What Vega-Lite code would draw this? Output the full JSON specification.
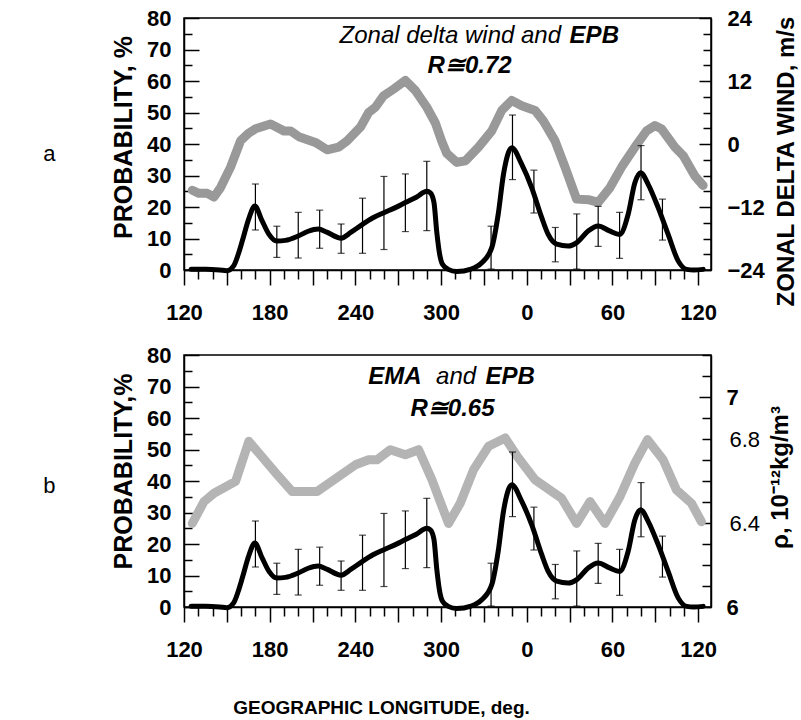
{
  "$schema": "https://vega.github.io/schema/vega-lite/v6.json",
  "padding": {"left": 42, "top": 6, "right": 0, "bottom": 0},
  "autosize": {"type": "pad"},
  "background": "white",
  "config": {
    "font": "Liberation Sans",
    "view": {"stroke": "black", "strokeWidth": 1.5},
    "concat": {"spacing": 19},
    "axis": {
      "grid": false,
      "domainColor": "black",
      "domainWidth": 1.5,
      "tickColor": "black",
      "tickWidth": 1.5,
      "labelColor": "black",
      "labelFont": "Liberation Sans",
      "labelFontSize": 22,
      "labelFontWeight": "bold",
      "labelOverlap": false,
      "labelFlush": false,
      "titleColor": "black",
      "titleFont": "Liberation Sans",
      "titleFontSize": 25,
      "titleFontWeight": "bold"
    }
  },
  "datasets": {
    "epb": [
      {"lon": 125, "p": 0.2}, {"lon": 135, "p": 0.2}, {"lon": 145, "p": 0.0}, {"lon": 150, "p": -0.2},
      {"lon": 155, "p": 1.5}, {"lon": 158, "p": 5}, {"lon": 161, "p": 9.5}, {"lon": 165.5, "p": 16.5},
      {"lon": 169.6, "p": 20.3}, {"lon": 174.7, "p": 15.6}, {"lon": 179.4, "p": 11.4}, {"lon": 185, "p": 9.2},
      {"lon": 191, "p": 9.4}, {"lon": 200, "p": 10.8}, {"lon": 207, "p": 12.3}, {"lon": 214, "p": 13},
      {"lon": 220, "p": 12}, {"lon": 230, "p": 10.1}, {"lon": 237, "p": 12}, {"lon": 245, "p": 14.5},
      {"lon": 252, "p": 16.5}, {"lon": 260, "p": 18.2}, {"lon": 268, "p": 19.8}, {"lon": 275, "p": 21.4},
      {"lon": 283, "p": 23.2}, {"lon": 290, "p": 25}, {"lon": 292.5, "p": 24.5}, {"lon": 295, "p": 21.5},
      {"lon": 297, "p": 12}, {"lon": 299, "p": 5}, {"lon": 301, "p": 1.8}, {"lon": 305, "p": 0.2},
      {"lon": 311, "p": -0.5}, {"lon": 321, "p": 0.3}, {"lon": 328.5, "p": 2.3}, {"lon": 335.5, "p": 7.1},
      {"lon": 340, "p": 17.7}, {"lon": 343.7, "p": 30.4}, {"lon": 349.5, "p": 38.8}, {"lon": 356.5, "p": 33.5},
      {"lon": 363.5, "p": 26.1}, {"lon": 370.5, "p": 16.6}, {"lon": 375, "p": 11.3}, {"lon": 381, "p": 8.2},
      {"lon": 389, "p": 7.6}, {"lon": 395, "p": 8.7}, {"lon": 403, "p": 12.4}, {"lon": 410, "p": 14},
      {"lon": 418, "p": 12.4}, {"lon": 425, "p": 11.3}, {"lon": 431, "p": 17.7}, {"lon": 435.7, "p": 27.7},
      {"lon": 439.7, "p": 30.9}, {"lon": 445, "p": 27.2}, {"lon": 452, "p": 19.8}, {"lon": 459, "p": 11.3},
      {"lon": 466, "p": 2.9}, {"lon": 472, "p": 0.2}, {"lon": 477, "p": 0}, {"lon": 483.5, "p": 0.2}
    ],
    "err": [
      {"lon": 170, "lo": 12.7, "hi": 27.3}, {"lon": 185, "lo": 4.0, "hi": 13.9}, {"lon": 200, "lo": 3.8, "hi": 18.3},
      {"lon": 215, "lo": 6.9, "hi": 19.0}, {"lon": 230, "lo": 5.3, "hi": 14.6}, {"lon": 245, "lo": 5.3, "hi": 22.8},
      {"lon": 260, "lo": 6.5, "hi": 29.7}, {"lon": 275, "lo": 12.2, "hi": 30.5}, {"lon": 290, "lo": 12.5, "hi": 34.5},
      {"lon": 335, "lo": 0.3, "hi": 13.9}, {"lon": 350, "lo": 28.7, "hi": 49.2}, {"lon": 365, "lo": 18.1, "hi": 31.7},
      {"lon": 380, "lo": 2.6, "hi": 13.5}, {"lon": 395, "lo": 0.3, "hi": 17.8}, {"lon": 410, "lo": 7.5, "hi": 20.2},
      {"lon": 425, "lo": 3.7, "hi": 18.3}, {"lon": 440, "lo": 22.3, "hi": 39.5}, {"lon": 455, "lo": 9.5, "hi": 22.5}
    ],
    "wind": [
      {"lon": 125.8, "w": -8.8}, {"lon": 130.5, "w": -9.4}, {"lon": 136.3, "w": -9.4}, {"lon": 141, "w": -10.1},
      {"lon": 145.6, "w": -8.3}, {"lon": 152.6, "w": -4.4}, {"lon": 159.6, "w": 0.6}, {"lon": 165, "w": 2.0},
      {"lon": 170.1, "w": 2.9}, {"lon": 180.6, "w": 3.8}, {"lon": 189.9, "w": 2.5}, {"lon": 194.6, "w": 2.5},
      {"lon": 200.4, "w": 1.4}, {"lon": 212, "w": 0.3}, {"lon": 220.2, "w": -1.1}, {"lon": 228.3, "w": -0.6},
      {"lon": 234.2, "w": 0.6}, {"lon": 243.5, "w": 3.2}, {"lon": 249.3, "w": 6}, {"lon": 254, "w": 7},
      {"lon": 259.8, "w": 9.2}, {"lon": 267, "w": 10.5}, {"lon": 275, "w": 12.1}, {"lon": 282, "w": 10.2},
      {"lon": 290, "w": 7}, {"lon": 296, "w": 4}, {"lon": 300.5, "w": 0.5}, {"lon": 304, "w": -1.8},
      {"lon": 311, "w": -3.5}, {"lon": 317, "w": -3.2}, {"lon": 326.2, "w": -0.6}, {"lon": 335.5, "w": 2.5},
      {"lon": 342.5, "w": 6.4}, {"lon": 349.5, "w": 8.3}, {"lon": 356.5, "w": 7.3}, {"lon": 365.8, "w": 6.4},
      {"lon": 371.6, "w": 4.4}, {"lon": 379.8, "w": 0.6}, {"lon": 386.8, "w": -4.4}, {"lon": 394.9, "w": -10.5},
      {"lon": 403.1, "w": -10.6}, {"lon": 410.1, "w": -11.1}, {"lon": 418.3, "w": -8.3}, {"lon": 426.4, "w": -4.4},
      {"lon": 435.7, "w": -0.6}, {"lon": 443.9, "w": 2.5}, {"lon": 449.7, "w": 3.5}, {"lon": 454.3, "w": 2.9},
      {"lon": 463.7, "w": -0.6}, {"lon": 469.5, "w": -2.2}, {"lon": 477.7, "w": -6.1}, {"lon": 483.5, "w": -7.9}
    ],
    "rho": [
      {"lon": 125.8, "r": 6.398}, {"lon": 134, "r": 6.502}, {"lon": 141, "r": 6.542}, {"lon": 156.1, "r": 6.598},
      {"lon": 165.4, "r": 6.789}, {"lon": 186.4, "r": 6.621}, {"lon": 195.7, "r": 6.55}, {"lon": 213.2, "r": 6.55},
      {"lon": 240, "r": 6.677}, {"lon": 249.3, "r": 6.701}, {"lon": 255.1, "r": 6.701}, {"lon": 264.5, "r": 6.749},
      {"lon": 275, "r": 6.725}, {"lon": 284.3, "r": 6.749}, {"lon": 293.6, "r": 6.606}, {"lon": 305.2, "r": 6.398},
      {"lon": 313.4, "r": 6.494}, {"lon": 322.7, "r": 6.653}, {"lon": 333.2, "r": 6.765}, {"lon": 344.9, "r": 6.805},
      {"lon": 354.2, "r": 6.709}, {"lon": 365.8, "r": 6.606}, {"lon": 384.4, "r": 6.518}, {"lon": 394.9, "r": 6.398},
      {"lon": 404.3, "r": 6.502}, {"lon": 414.8, "r": 6.398}, {"lon": 425.3, "r": 6.526}, {"lon": 435.7, "r": 6.685},
      {"lon": 444.6, "r": 6.797}, {"lon": 455.5, "r": 6.701}, {"lon": 464.8, "r": 6.558}, {"lon": 475.3, "r": 6.494},
      {"lon": 482.3, "r": 6.406}
    ]
  },
  "vconcat": [
    {
      "width": 527,
      "height": 252,
      "title": {"text": "a", "orient": "left", "angle": 0, "fontSize": 22, "fontWeight": "normal", "font": "Liberation Sans", "offset": 50, "dy": 0},
      "layer": [
        {
          "data": {"name": "wind"},
          "mark": {"type": "line", "color": "#999999", "strokeWidth": 9, "strokeJoin": "round", "strokeCap": "round"},
          "encoding": {
            "x": {
              "field": "lon", "type": "quantitative",
              "scale": {"domain": [120, 489], "nice": false, "zero": false},
              "axis": {
                "title": null, "labelOverlap": false,
                "values": [120,130,140,150,160,170,180,190,200,210,220,230,240,250,260,270,280,290,300,310,320,330,340,350,360,370,380,390,400,410,420,430,440,450,460,470,480],
                "tickSize": {"condition": {"test": "datum.value % 30 == 0", "value": 15}, "value": 9},
                "labelExpr": "datum.value % 60 == 0 ? format(datum.value % 360, 'd') : ''",
                "labelPadding": 17
              }
            },
            "y": {
              "field": "w", "type": "quantitative",
              "scale": {"domain": [-24, 24], "nice": false, "zero": false},
              "axis": {
                "orient": "right", "title": "ZONAL DELTA WIND, m/s", "titleFontSize": 24, "titleAngle": 270,
                "titleBaseline": "top", "titlePadding": 10, "titleY": 143, "labelOverlap": false,
                "values": [-24,-21,-18,-15,-12,-9,-6,-3,0,3,6,9,12,15,18,21,24],
                "tickSize": {"condition": {"test": "datum.value % 12 == 0", "value": -12}, "value": -8},
                "labelExpr": "datum.value % 12 == 0 ? format(datum.value, 'd') : ''",
                "labelPadding": 28
              }
            }
          }
        },
        {
          "layer": [
            {
              "data": {"name": "err"},
              "mark": {"type": "rule", "color": "black", "strokeWidth": 1.2},
              "encoding": {
                "x": {
                  "field": "lon", "type": "quantitative",
                  "scale": {"domain": [120, 489], "nice": false, "zero": false},
                  "axis": {
                    "title": null, "labelOverlap": false,
                    "values": [120,130,140,150,160,170,180,190,200,210,220,230,240,250,260,270,280,290,300,310,320,330,340,350,360,370,380,390,400,410,420,430,440,450,460,470,480],
                    "tickSize": {"condition": {"test": "datum.value % 30 == 0", "value": 15}, "value": 9},
                    "labelExpr": "datum.value % 60 == 0 ? format(datum.value % 360, 'd') : ''",
                    "labelPadding": 17
                  }
                },
                "y": {
                  "field": "lo", "type": "quantitative",
                  "scale": {"domain": [0, 80], "nice": false, "zero": false},
                  "axis": {
                    "orient": "left", "title": "PROBABILITY, %", "titlePadding": 10, "titleY": 119, "labelOverlap": false,
                    "values": [0,5,10,15,20,25,30,35,40,45,50,55,60,65,70,75,80],
                    "tickSize": {"condition": {"test": "datum.value % 10 == 0", "value": -15}, "value": -8},
                    "labelExpr": "datum.value % 10 == 0 ? format(datum.value, 'd') : ''",
                    "labelPadding": 28
                  }
                },
                "y2": {"field": "hi"}
              }
            },
            {
              "data": {"name": "err"},
              "mark": {"type": "tick", "orient": "horizontal", "color": "black", "size": 7, "thickness": 1.2},
              "encoding": {
                "x": {
                  "field": "lon", "type": "quantitative",
                  "axis": {
                    "title": null, "labelOverlap": false,
                    "values": [120,130,140,150,160,170,180,190,200,210,220,230,240,250,260,270,280,290,300,310,320,330,340,350,360,370,380,390,400,410,420,430,440,450,460,470,480],
                    "tickSize": {"condition": {"test": "datum.value % 30 == 0", "value": 15}, "value": 9},
                    "labelExpr": "datum.value % 60 == 0 ? format(datum.value % 360, 'd') : ''",
                    "labelPadding": 17
                  }
                },
                "y": {
                  "field": "lo", "type": "quantitative",
                  "axis": {
                    "orient": "left", "title": "PROBABILITY, %", "titlePadding": 10, "titleY": 119, "labelOverlap": false,
                    "values": [0,5,10,15,20,25,30,35,40,45,50,55,60,65,70,75,80],
                    "tickSize": {"condition": {"test": "datum.value % 10 == 0", "value": -15}, "value": -8},
                    "labelExpr": "datum.value % 10 == 0 ? format(datum.value, 'd') : ''",
                    "labelPadding": 28
                  }
                }
              }
            },
            {
              "data": {"name": "err"},
              "mark": {"type": "tick", "orient": "horizontal", "color": "black", "size": 7, "thickness": 1.2},
              "encoding": {
                "x": {
                  "field": "lon", "type": "quantitative",
                  "axis": {
                    "title": null, "labelOverlap": false,
                    "values": [120,130,140,150,160,170,180,190,200,210,220,230,240,250,260,270,280,290,300,310,320,330,340,350,360,370,380,390,400,410,420,430,440,450,460,470,480],
                    "tickSize": {"condition": {"test": "datum.value % 30 == 0", "value": 15}, "value": 9},
                    "labelExpr": "datum.value % 60 == 0 ? format(datum.value % 360, 'd') : ''",
                    "labelPadding": 17
                  }
                },
                "y": {
                  "field": "hi", "type": "quantitative",
                  "axis": {
                    "orient": "left", "title": "PROBABILITY, %", "titlePadding": 10, "titleY": 119, "labelOverlap": false,
                    "values": [0,5,10,15,20,25,30,35,40,45,50,55,60,65,70,75,80],
                    "tickSize": {"condition": {"test": "datum.value % 10 == 0", "value": -15}, "value": -8},
                    "labelExpr": "datum.value % 10 == 0 ? format(datum.value, 'd') : ''",
                    "labelPadding": 28
                  }
                }
              }
            },
            {
              "data": {"name": "epb"},
              "mark": {"type": "line", "color": "black", "strokeWidth": 5, "interpolate": "monotone", "strokeJoin": "round", "strokeCap": "round"},
              "encoding": {
                "x": {
                  "field": "lon", "type": "quantitative",
                  "axis": {
                    "title": null, "labelOverlap": false,
                    "values": [120,130,140,150,160,170,180,190,200,210,220,230,240,250,260,270,280,290,300,310,320,330,340,350,360,370,380,390,400,410,420,430,440,450,460,470,480],
                    "tickSize": {"condition": {"test": "datum.value % 30 == 0", "value": 15}, "value": 9},
                    "labelExpr": "datum.value % 60 == 0 ? format(datum.value % 360, 'd') : ''",
                    "labelPadding": 17
                  }
                },
                "y": {
                  "field": "p", "type": "quantitative",
                  "axis": {
                    "orient": "left", "title": "PROBABILITY, %", "titlePadding": 10, "titleY": 119, "labelOverlap": false,
                    "values": [0,5,10,15,20,25,30,35,40,45,50,55,60,65,70,75,80],
                    "tickSize": {"condition": {"test": "datum.value % 10 == 0", "value": -15}, "value": -8},
                    "labelExpr": "datum.value % 10 == 0 ? format(datum.value, 'd') : ''",
                    "labelPadding": 28
                  }
                }
              }
            },
            {
              "data": {"values": [{}]},
              "mark": {"type": "text", "font": "Liberation Sans", "fontStyle": "italic", "fontSize": 24, "align": "right", "baseline": "middle", "color": "black"},
              "encoding": {
                "x": {
                  "datum": 384, "type": "quantitative",
                  "axis": {
                    "title": null, "labelOverlap": false,
                    "values": [120,130,140,150,160,170,180,190,200,210,220,230,240,250,260,270,280,290,300,310,320,330,340,350,360,370,380,390,400,410,420,430,440,450,460,470,480],
                    "tickSize": {"condition": {"test": "datum.value % 30 == 0", "value": 15}, "value": 9},
                    "labelExpr": "datum.value % 60 == 0 ? format(datum.value % 360, 'd') : ''",
                    "labelPadding": 17
                  }
                },
                "y": {
                  "datum": 74.3, "type": "quantitative",
                  "axis": {
                    "orient": "left", "title": "PROBABILITY, %", "titlePadding": 10, "titleY": 119, "labelOverlap": false,
                    "values": [0,5,10,15,20,25,30,35,40,45,50,55,60,65,70,75,80],
                    "tickSize": {"condition": {"test": "datum.value % 10 == 0", "value": -15}, "value": -8},
                    "labelExpr": "datum.value % 10 == 0 ? format(datum.value, 'd') : ''",
                    "labelPadding": 28
                  }
                },
                "text": {"value": "Zonal delta wind and"}
              }
            },
            {
              "data": {"values": [{}]},
              "mark": {"type": "text", "font": "Liberation Sans", "fontStyle": "italic", "fontWeight": "bold", "fontSize": 24, "align": "left", "baseline": "middle", "color": "black"},
              "encoding": {
                "x": {
                  "datum": 390, "type": "quantitative",
                  "axis": {
                    "title": null, "labelOverlap": false,
                    "values": [120,130,140,150,160,170,180,190,200,210,220,230,240,250,260,270,280,290,300,310,320,330,340,350,360,370,380,390,400,410,420,430,440,450,460,470,480],
                    "tickSize": {"condition": {"test": "datum.value % 30 == 0", "value": 15}, "value": 9},
                    "labelExpr": "datum.value % 60 == 0 ? format(datum.value % 360, 'd') : ''",
                    "labelPadding": 17
                  }
                },
                "y": {
                  "datum": 74.3, "type": "quantitative",
                  "axis": {
                    "orient": "left", "title": "PROBABILITY, %", "titlePadding": 10, "titleY": 119, "labelOverlap": false,
                    "values": [0,5,10,15,20,25,30,35,40,45,50,55,60,65,70,75,80],
                    "tickSize": {"condition": {"test": "datum.value % 10 == 0", "value": -15}, "value": -8},
                    "labelExpr": "datum.value % 10 == 0 ? format(datum.value, 'd') : ''",
                    "labelPadding": 28
                  }
                },
                "text": {"value": "EPB"}
              }
            },
            {
              "data": {"values": [{}]},
              "mark": {"type": "text", "font": "Liberation Sans", "fontStyle": "italic", "fontWeight": "bold", "fontSize": 24, "align": "center", "baseline": "middle", "color": "black"},
              "encoding": {
                "x": {
                  "datum": 320, "type": "quantitative",
                  "axis": {
                    "title": null, "labelOverlap": false,
                    "values": [120,130,140,150,160,170,180,190,200,210,220,230,240,250,260,270,280,290,300,310,320,330,340,350,360,370,380,390,400,410,420,430,440,450,460,470,480],
                    "tickSize": {"condition": {"test": "datum.value % 30 == 0", "value": 15}, "value": 9},
                    "labelExpr": "datum.value % 60 == 0 ? format(datum.value % 360, 'd') : ''",
                    "labelPadding": 17
                  }
                },
                "y": {
                  "datum": 64.8, "type": "quantitative",
                  "axis": {
                    "orient": "left", "title": "PROBABILITY, %", "titlePadding": 10, "titleY": 119, "labelOverlap": false,
                    "values": [0,5,10,15,20,25,30,35,40,45,50,55,60,65,70,75,80],
                    "tickSize": {"condition": {"test": "datum.value % 10 == 0", "value": -15}, "value": -8},
                    "labelExpr": "datum.value % 10 == 0 ? format(datum.value, 'd') : ''",
                    "labelPadding": 28
                  }
                },
                "text": {"value": "R≅0.72"}
              }
            }
          ]
        }
      ],
      "resolve": {"scale": {"y": "independent"}, "axis": {"y": "independent"}}
    },
    {
      "width": 527,
      "height": 252,
      "title": {"text": "b", "orient": "left", "angle": 0, "fontSize": 22, "fontWeight": "normal", "font": "Liberation Sans", "offset": 50, "dy": -5},
      "layer": [
        {
          "data": {"name": "rho"},
          "mark": {"type": "line", "color": "#b4b4b4", "strokeWidth": 9, "strokeJoin": "round", "strokeCap": "round"},
          "encoding": {
            "x": {
              "field": "lon", "type": "quantitative",
              "scale": {"domain": [120, 489], "nice": false, "zero": false},
              "axis": {
                "title": "GEOGRAPHIC LONGITUDE, deg.", "titleFontSize": 19, "titlePadding": 38, "titleX": 197, "titleAlign": "center",
                "labelOverlap": false,
                "values": [120,130,140,150,160,170,180,190,200,210,220,230,240,250,260,270,280,290,300,310,320,330,340,350,360,370,380,390,400,410,420,430,440,450,460,470,480],
                "tickSize": {"condition": {"test": "datum.value % 30 == 0", "value": 15}, "value": 9},
                "labelExpr": "datum.value % 60 == 0 ? format(datum.value % 360, 'd') : ''",
                "labelPadding": 17
              }
            },
            "y": {
              "field": "r", "type": "quantitative",
              "scale": {"domain": [6, 7.2], "nice": false, "zero": false},
              "axis": {
                "orient": "right", "title": "ρ, 10⁻¹²kg/m³", "titleFontSize": 24, "titleAngle": 270,
                "titleBaseline": "top", "titlePadding": 9, "titleY": 122, "labelOverlap": false,
                "values": [6,6.1,6.2,6.3,6.4,6.5,6.6,6.7,6.8,6.9,7,7.1,7.2],
                "tickSize": {"condition": {"test": "datum.value == 6 || datum.value == 7", "value": -12}, "value": -9},
                "labelExpr": "indexof([6, 6.4, 6.8, 7], datum.value) >= 0 ? format(datum.value, '~g') : ''",
                "labelFontWeight": {"condition": {"test": "datum.value == 6 || datum.value == 7", "value": "bold"}, "value": "normal"},
                "labelPadding": 27
              }
            }
          }
        },
        {
          "layer": [
            {
              "data": {"name": "err"},
              "mark": {"type": "rule", "color": "black", "strokeWidth": 1.2},
              "encoding": {
                "x": {
                  "field": "lon", "type": "quantitative",
                  "scale": {"domain": [120, 489], "nice": false, "zero": false},
                  "axis": {
                    "title": "GEOGRAPHIC LONGITUDE, deg.", "titleFontSize": 19, "titlePadding": 38, "titleX": 197, "titleAlign": "center",
                    "labelOverlap": false,
                    "values": [120,130,140,150,160,170,180,190,200,210,220,230,240,250,260,270,280,290,300,310,320,330,340,350,360,370,380,390,400,410,420,430,440,450,460,470,480],
                    "tickSize": {"condition": {"test": "datum.value % 30 == 0", "value": 15}, "value": 9},
                    "labelExpr": "datum.value % 60 == 0 ? format(datum.value % 360, 'd') : ''",
                    "labelPadding": 17
                  }
                },
                "y": {
                  "field": "lo", "type": "quantitative",
                  "scale": {"domain": [0, 80], "nice": false, "zero": false},
                  "axis": {
                    "orient": "left", "title": "PROBABILITY,%", "titlePadding": 10, "titleY": 116, "labelOverlap": false,
                    "values": [0,5,10,15,20,25,30,35,40,45,50,55,60,65,70,75,80],
                    "tickSize": {"condition": {"test": "datum.value % 10 == 0", "value": -15}, "value": -8},
                    "labelExpr": "datum.value % 10 == 0 ? format(datum.value, 'd') : ''",
                    "labelPadding": 28
                  }
                },
                "y2": {"field": "hi"}
              }
            },
            {
              "data": {"name": "err"},
              "mark": {"type": "tick", "orient": "horizontal", "color": "black", "size": 7, "thickness": 1.2},
              "encoding": {
                "x": {
                  "field": "lon", "type": "quantitative",
                  "axis": {
                    "title": "GEOGRAPHIC LONGITUDE, deg.", "titleFontSize": 19, "titlePadding": 38, "titleX": 197, "titleAlign": "center",
                    "labelOverlap": false,
                    "values": [120,130,140,150,160,170,180,190,200,210,220,230,240,250,260,270,280,290,300,310,320,330,340,350,360,370,380,390,400,410,420,430,440,450,460,470,480],
                    "tickSize": {"condition": {"test": "datum.value % 30 == 0", "value": 15}, "value": 9},
                    "labelExpr": "datum.value % 60 == 0 ? format(datum.value % 360, 'd') : ''",
                    "labelPadding": 17
                  }
                },
                "y": {
                  "field": "lo", "type": "quantitative",
                  "axis": {
                    "orient": "left", "title": "PROBABILITY,%", "titlePadding": 10, "titleY": 116, "labelOverlap": false,
                    "values": [0,5,10,15,20,25,30,35,40,45,50,55,60,65,70,75,80],
                    "tickSize": {"condition": {"test": "datum.value % 10 == 0", "value": -15}, "value": -8},
                    "labelExpr": "datum.value % 10 == 0 ? format(datum.value, 'd') : ''",
                    "labelPadding": 28
                  }
                }
              }
            },
            {
              "data": {"name": "err"},
              "mark": {"type": "tick", "orient": "horizontal", "color": "black", "size": 7, "thickness": 1.2},
              "encoding": {
                "x": {
                  "field": "lon", "type": "quantitative",
                  "axis": {
                    "title": "GEOGRAPHIC LONGITUDE, deg.", "titleFontSize": 19, "titlePadding": 38, "titleX": 197, "titleAlign": "center",
                    "labelOverlap": false,
                    "values": [120,130,140,150,160,170,180,190,200,210,220,230,240,250,260,270,280,290,300,310,320,330,340,350,360,370,380,390,400,410,420,430,440,450,460,470,480],
                    "tickSize": {"condition": {"test": "datum.value % 30 == 0", "value": 15}, "value": 9},
                    "labelExpr": "datum.value % 60 == 0 ? format(datum.value % 360, 'd') : ''",
                    "labelPadding": 17
                  }
                },
                "y": {
                  "field": "hi", "type": "quantitative",
                  "axis": {
                    "orient": "left", "title": "PROBABILITY,%", "titlePadding": 10, "titleY": 116, "labelOverlap": false,
                    "values": [0,5,10,15,20,25,30,35,40,45,50,55,60,65,70,75,80],
                    "tickSize": {"condition": {"test": "datum.value % 10 == 0", "value": -15}, "value": -8},
                    "labelExpr": "datum.value % 10 == 0 ? format(datum.value, 'd') : ''",
                    "labelPadding": 28
                  }
                }
              }
            },
            {
              "data": {"name": "epb"},
              "mark": {"type": "line", "color": "black", "strokeWidth": 5, "interpolate": "monotone", "strokeJoin": "round", "strokeCap": "round"},
              "encoding": {
                "x": {
                  "field": "lon", "type": "quantitative",
                  "axis": {
                    "title": "GEOGRAPHIC LONGITUDE, deg.", "titleFontSize": 19, "titlePadding": 38, "titleX": 197, "titleAlign": "center",
                    "labelOverlap": false,
                    "values": [120,130,140,150,160,170,180,190,200,210,220,230,240,250,260,270,280,290,300,310,320,330,340,350,360,370,380,390,400,410,420,430,440,450,460,470,480],
                    "tickSize": {"condition": {"test": "datum.value % 30 == 0", "value": 15}, "value": 9},
                    "labelExpr": "datum.value % 60 == 0 ? format(datum.value % 360, 'd') : ''",
                    "labelPadding": 17
                  }
                },
                "y": {
                  "field": "p", "type": "quantitative",
                  "axis": {
                    "orient": "left", "title": "PROBABILITY,%", "titlePadding": 10, "titleY": 116, "labelOverlap": false,
                    "values": [0,5,10,15,20,25,30,35,40,45,50,55,60,65,70,75,80],
                    "tickSize": {"condition": {"test": "datum.value % 10 == 0", "value": -15}, "value": -8},
                    "labelExpr": "datum.value % 10 == 0 ? format(datum.value, 'd') : ''",
                    "labelPadding": 28
                  }
                }
              }
            },
            {
              "data": {"values": [{}]},
              "mark": {"type": "text", "font": "Liberation Sans", "fontStyle": "italic", "fontWeight": "bold", "fontSize": 24, "align": "right", "baseline": "middle", "color": "black"},
              "encoding": {
                "x": {
                  "datum": 286.4, "type": "quantitative",
                  "axis": {
                    "title": "GEOGRAPHIC LONGITUDE, deg.", "titleFontSize": 19, "titlePadding": 38, "titleX": 197, "titleAlign": "center",
                    "labelOverlap": false,
                    "values": [120,130,140,150,160,170,180,190,200,210,220,230,240,250,260,270,280,290,300,310,320,330,340,350,360,370,380,390,400,410,420,430,440,450,460,470,480],
                    "tickSize": {"condition": {"test": "datum.value % 30 == 0", "value": 15}, "value": 9},
                    "labelExpr": "datum.value % 60 == 0 ? format(datum.value % 360, 'd') : ''",
                    "labelPadding": 17
                  }
                },
                "y": {
                  "datum": 73, "type": "quantitative",
                  "axis": {
                    "orient": "left", "title": "PROBABILITY,%", "titlePadding": 10, "titleY": 116, "labelOverlap": false,
                    "values": [0,5,10,15,20,25,30,35,40,45,50,55,60,65,70,75,80],
                    "tickSize": {"condition": {"test": "datum.value % 10 == 0", "value": -15}, "value": -8},
                    "labelExpr": "datum.value % 10 == 0 ? format(datum.value, 'd') : ''",
                    "labelPadding": 28
                  }
                },
                "text": {"value": "EMA"}
              }
            },
            {
              "data": {"values": [{}]},
              "mark": {"type": "text", "font": "Liberation Sans", "fontStyle": "italic", "fontSize": 24, "align": "center", "baseline": "middle", "color": "black"},
              "encoding": {
                "x": {
                  "datum": 310.5, "type": "quantitative",
                  "axis": {
                    "title": "GEOGRAPHIC LONGITUDE, deg.", "titleFontSize": 19, "titlePadding": 38, "titleX": 197, "titleAlign": "center",
                    "labelOverlap": false,
                    "values": [120,130,140,150,160,170,180,190,200,210,220,230,240,250,260,270,280,290,300,310,320,330,340,350,360,370,380,390,400,410,420,430,440,450,460,470,480],
                    "tickSize": {"condition": {"test": "datum.value % 30 == 0", "value": 15}, "value": 9},
                    "labelExpr": "datum.value % 60 == 0 ? format(datum.value % 360, 'd') : ''",
                    "labelPadding": 17
                  }
                },
                "y": {
                  "datum": 73, "type": "quantitative",
                  "axis": {
                    "orient": "left", "title": "PROBABILITY,%", "titlePadding": 10, "titleY": 116, "labelOverlap": false,
                    "values": [0,5,10,15,20,25,30,35,40,45,50,55,60,65,70,75,80],
                    "tickSize": {"condition": {"test": "datum.value % 10 == 0", "value": -15}, "value": -8},
                    "labelExpr": "datum.value % 10 == 0 ? format(datum.value, 'd') : ''",
                    "labelPadding": 28
                  }
                },
                "text": {"value": "and"}
              }
            },
            {
              "data": {"values": [{}]},
              "mark": {"type": "text", "font": "Liberation Sans", "fontStyle": "italic", "fontWeight": "bold", "fontSize": 24, "align": "left", "baseline": "middle", "color": "black"},
              "encoding": {
                "x": {
                  "datum": 331.1, "type": "quantitative",
                  "axis": {
                    "title": "GEOGRAPHIC LONGITUDE, deg.", "titleFontSize": 19, "titlePadding": 38, "titleX": 197, "titleAlign": "center",
                    "labelOverlap": false,
                    "values": [120,130,140,150,160,170,180,190,200,210,220,230,240,250,260,270,280,290,300,310,320,330,340,350,360,370,380,390,400,410,420,430,440,450,460,470,480],
                    "tickSize": {"condition": {"test": "datum.value % 30 == 0", "value": 15}, "value": 9},
                    "labelExpr": "datum.value % 60 == 0 ? format(datum.value % 360, 'd') : ''",
                    "labelPadding": 17
                  }
                },
                "y": {
                  "datum": 73, "type": "quantitative",
                  "axis": {
                    "orient": "left", "title": "PROBABILITY,%", "titlePadding": 10, "titleY": 116, "labelOverlap": false,
                    "values": [0,5,10,15,20,25,30,35,40,45,50,55,60,65,70,75,80],
                    "tickSize": {"condition": {"test": "datum.value % 10 == 0", "value": -15}, "value": -8},
                    "labelExpr": "datum.value % 10 == 0 ? format(datum.value, 'd') : ''",
                    "labelPadding": 28
                  }
                },
                "text": {"value": "EPB"}
              }
            },
            {
              "data": {"values": [{}]},
              "mark": {"type": "text", "font": "Liberation Sans", "fontStyle": "italic", "fontWeight": "bold", "fontSize": 24, "align": "center", "baseline": "middle", "color": "black"},
              "encoding": {
                "x": {
                  "datum": 308, "type": "quantitative",
                  "axis": {
                    "title": "GEOGRAPHIC LONGITUDE, deg.", "titleFontSize": 19, "titlePadding": 38, "titleX": 197, "titleAlign": "center",
                    "labelOverlap": false,
                    "values": [120,130,140,150,160,170,180,190,200,210,220,230,240,250,260,270,280,290,300,310,320,330,340,350,360,370,380,390,400,410,420,430,440,450,460,470,480],
                    "tickSize": {"condition": {"test": "datum.value % 30 == 0", "value": 15}, "value": 9},
                    "labelExpr": "datum.value % 60 == 0 ? format(datum.value % 360, 'd') : ''",
                    "labelPadding": 17
                  }
                },
                "y": {
                  "datum": 62.8, "type": "quantitative",
                  "axis": {
                    "orient": "left", "title": "PROBABILITY,%", "titlePadding": 10, "titleY": 116, "labelOverlap": false,
                    "values": [0,5,10,15,20,25,30,35,40,45,50,55,60,65,70,75,80],
                    "tickSize": {"condition": {"test": "datum.value % 10 == 0", "value": -15}, "value": -8},
                    "labelExpr": "datum.value % 10 == 0 ? format(datum.value, 'd') : ''",
                    "labelPadding": 28
                  }
                },
                "text": {"value": "R≅0.65"}
              }
            }
          ]
        }
      ],
      "resolve": {"scale": {"y": "independent"}, "axis": {"y": "independent"}}
    }
  ]
}
